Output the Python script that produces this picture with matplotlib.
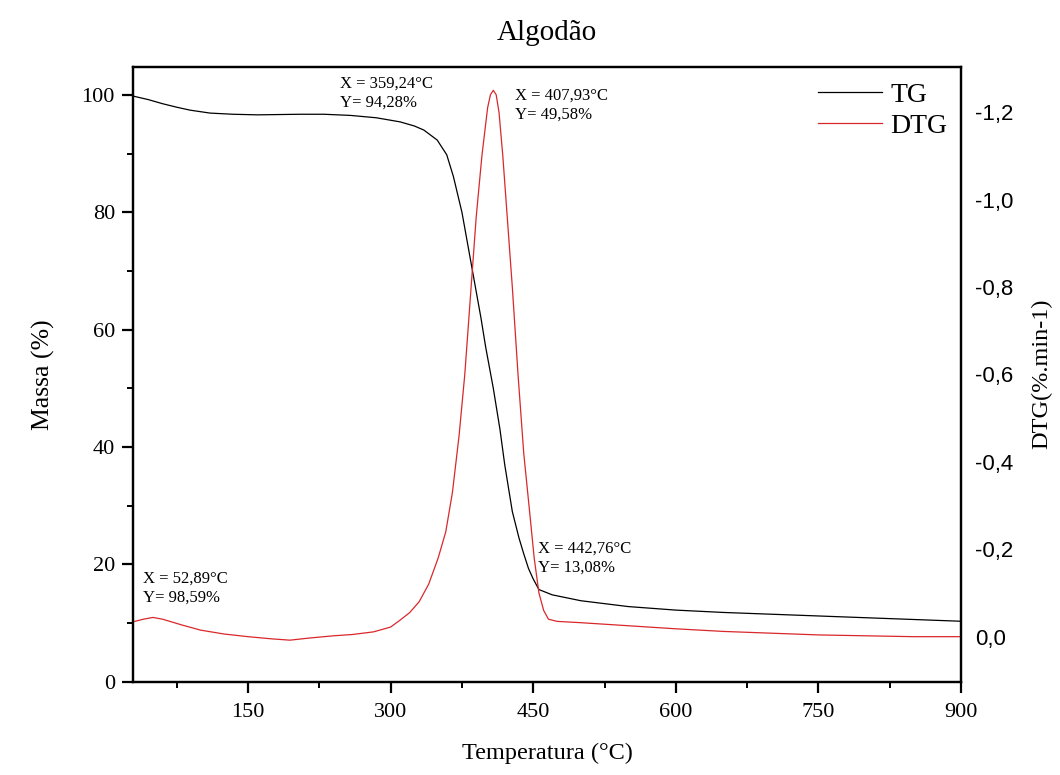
import matplotlib.pyplot as plt
from matplotlib.ticker import MultipleLocator, FixedLocator
import numpy as np

# TG curve, massa (%) vs temperatura (°C)
tg_temp = [29, 45, 60, 75, 89, 110, 134, 160, 205, 230, 258, 285, 310, 325, 335, 349,
           359, 366, 375, 385, 395, 400, 408, 415, 420, 428, 435, 440, 445, 450, 456,
           470, 500, 550, 600, 650, 700, 750, 800, 850, 900]
tg_mass = [99.8, 99.2, 98.5, 97.9, 97.4, 96.9, 96.7, 96.6, 96.7, 96.7, 96.5, 96.1, 95.4,
           94.7, 94.0, 92.3, 89.8, 86.1, 80.0, 71.0, 62.0, 57.0, 50.0, 43.0, 37.0, 29.0,
           24.5, 21.8, 19.3, 17.5, 15.7, 14.8, 13.8, 12.8, 12.2, 11.8, 11.5, 11.2, 10.9,
           10.6, 10.3]

# DTG curve (%.min-1)
dtg_temp = [29, 40, 50, 60, 80, 100, 125, 150, 175, 194, 215, 240, 260, 282, 300, 310,
            320, 330, 340, 350, 358, 365, 372, 378, 384, 390, 396, 402, 405, 408, 411,
            414, 418, 422, 428, 434, 440, 446, 451, 456, 461, 466, 475, 500, 550, 600,
            650, 700, 750, 800, 850, 900]
dtg_val = [-0.034, -0.040, -0.044, -0.040, -0.027, -0.015, -0.006, 0.000, 0.005, 0.008,
           0.003, -0.002, -0.005, -0.011, -0.022, -0.038, -0.055, -0.080, -0.120, -0.180,
           -0.240, -0.330, -0.460, -0.600, -0.780, -0.960, -1.100, -1.210, -1.240, -1.250,
           -1.240, -1.200, -1.100, -0.980, -0.800, -0.600, -0.420, -0.290, -0.180, -0.100,
           -0.060, -0.040, -0.035, -0.032, -0.025, -0.018, -0.012, -0.008, -0.004, -0.002,
           0.000, 0.000]

notes = [
    (0.250, 0.985, "X = 359,24°C\nY= 94,28%"),
    (0.461, 0.966, "X = 407,93°C\nY= 49,58%"),
    (0.489, 0.229, "X = 442,76°C\nY= 13,08%"),
    (0.012, 0.180, "X = 52,89°C\nY= 98,59%"),
]

serif = "Liberation Serif"
sans = "Liberation Sans"

fig = plt.figure(figsize=(10.6, 7.75), dpi=100)
ax = fig.add_axes([0.1255, 0.1204, 0.7811, 0.7935])
ax2 = ax.twinx()

l1, = ax.plot(tg_temp, tg_mass, color="black", lw=0.9, label="TG")
l2, = ax2.plot(dtg_temp, dtg_val, color="#d9282b", lw=0.9, label="DTG")

ax.set_xlim(29, 900)
ax.set_ylim(0, 104.8)
ax2.set_ylim(0.103, -1.304)

ax.xaxis.set_major_locator(FixedLocator([150, 300, 450, 600, 750, 900]))
ax.xaxis.set_minor_locator(FixedLocator([75, 225, 375, 525, 675, 825]))
ax.yaxis.set_major_locator(MultipleLocator(20))
ax.yaxis.set_minor_locator(MultipleLocator(10))
ax2.yaxis.set_major_locator(FixedLocator([-1.2, -1.0, -0.8, -0.6, -0.4, -0.2, 0.0]))
ax2.set_yticklabels(["-1,2", "-1,0", "-0,8", "-0,6", "-0,4", "-0,2", "0,0"])

for a in (ax, ax2):
    for s in a.spines.values():
        s.set_linewidth(1.6)

ax.tick_params(axis="both", which="major", direction="out", length=8, width=1.6,
               labelsize=16, top=False, right=False)
ax.tick_params(axis="both", which="minor", direction="out", length=4.5, width=1.4,
               top=False, right=False)
for lab in ax.get_xticklabels() + ax.get_yticklabels():
    lab.set_fontfamily(serif)
ax.tick_params(axis="x", pad=7)
ax.tick_params(axis="y", pad=5)
ax2.tick_params(axis="y", length=0, labelsize=16, pad=10)
for lab in ax2.get_yticklabels():
    lab.set_fontfamily(sans)

ax.set_xlabel("Temperatura (°C)", fontfamily=serif, fontsize=17.5, labelpad=15)
ax.set_ylabel("Massa (%)", fontfamily=serif, fontsize=18.5, labelpad=19)
ax2.set_ylabel("DTG(%.min-1)", fontfamily=serif, fontsize=17.5, labelpad=13)
ax.set_title("Algodão", fontfamily=serif, fontsize=21, pad=19)

for x, y, t in notes:
    ax.text(x, y, t, transform=ax.transAxes, fontfamily=serif, fontsize=12,
            va="top", ha="left", linespacing=1.25)

fig.legend(handles=[l1, l2], loc="upper right", bbox_to_anchor=(0.894, 0.894),
           frameon=False, prop={"family": serif, "size": 20}, handlelength=2.3,
           handletextpad=0.3, labelspacing=0.2, borderaxespad=0, borderpad=0)

fig.savefig("out.png", dpi=100)
